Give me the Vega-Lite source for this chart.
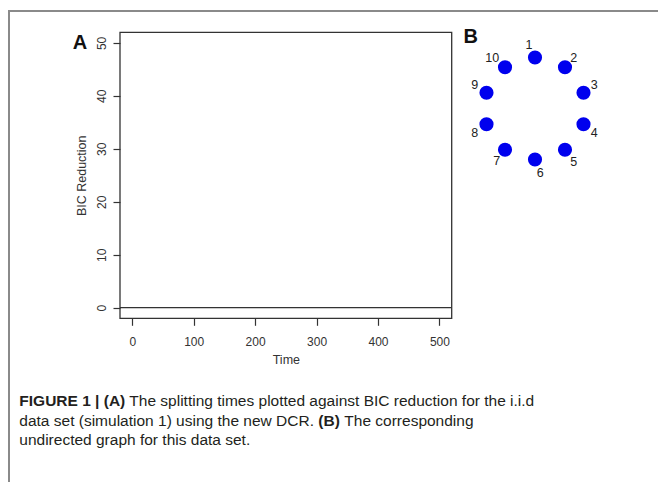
{
  "$schema": "https://vega.github.io/schema/vega-lite/v6.json",
  "width": 652,
  "height": 474,
  "autosize": "none",
  "padding": {"left": 9, "top": 11, "right": 0, "bottom": 0},
  "background": "white",
  "config": {
    "view": {"stroke": "#8a8a8a", "strokeWidth": 2},
    "font": "Liberation Sans"
  },
  "datasets": {
    "splits": [{"time": -20, "bic": 0}, {"time": 520, "bic": 0}],
    "nodes": [
      {"id": "1", "nx": 0, "ny": 1, "lx": -0.12, "ly": 1.25},
      {"id": "2", "nx": 0.588, "ny": 0.809, "lx": 0.76, "ly": 1.0},
      {"id": "3", "nx": 0.951, "ny": 0.309, "lx": 1.16, "ly": 0.46},
      {"id": "4", "nx": 0.951, "ny": -0.309, "lx": 1.16, "ly": -0.48},
      {"id": "5", "nx": 0.588, "ny": -0.809, "lx": 0.76, "ly": -1.05},
      {"id": "6", "nx": 0, "ny": -1, "lx": 0.1, "ly": -1.27},
      {"id": "7", "nx": -0.588, "ny": -0.809, "lx": -0.75, "ly": -1.02},
      {"id": "8", "nx": -0.951, "ny": -0.309, "lx": -1.18, "ly": -0.49},
      {"id": "9", "nx": -0.951, "ny": 0.309, "lx": -1.18, "ly": 0.46},
      {"id": "10", "nx": -0.588, "ny": 0.809, "lx": -0.84, "ly": 1.0}
    ],
    "captionBold": [
      {"line": 1, "pos": 0, "seg": "FIGURE 1 | (A)"},
      {"line": 2, "pos": 299, "seg": "(B)"}
    ],
    "captionRegular": [
      {"line": 1, "pos": 110, "seg": "The splitting times plotted against BIC reduction for the i.i.d"},
      {"line": 2, "pos": 0, "seg": "data set (simulation 1) using the new DCR."},
      {"line": 2, "pos": 325, "seg": "The corresponding"},
      {"line": 3, "pos": 0, "seg": "undirected graph for this data set."}
    ]
  },
  "layer": [
    {
      "layer": [
        {
          "data": {"name": "splits"},
          "mark": {"type": "line", "color": "#333333", "strokeWidth": 1.3},
          "encoding": {
            "x": {
              "field": "time", "type": "quantitative",
              "scale": {"domain": [-20, 520], "range": [111, 442.7], "nice": false, "zero": false},
              "axis": {
                "title": "Time", "values": [0, 100, 200, 300, 400, 500], "offset": -166.7,
                "domain": false, "grid": false, "tickSize": 7, "tickColor": "#333333", "tickWidth": 1.2,
                "labelPadding": 11, "labelFontSize": 12, "labelColor": "#333333", "labelFont": "Liberation Sans",
                "titleFontSize": 12.5, "titleFontWeight": "normal", "titleColor": "#333333", "titleFont": "Liberation Sans", "titlePadding": 6
              }
            },
            "y": {
              "field": "bic", "type": "quantitative",
              "scale": {"domain": [-2, 52], "range": [307.3, 21.3], "nice": false, "zero": false},
              "axis": {
                "title": "BIC Reduction", "values": [0, 10, 20, 30, 40, 50], "offset": -111,
                "domain": false, "grid": false, "tickSize": 7, "tickColor": "#333333", "tickWidth": 1.2,
                "labelAngle": -90, "labelAlign": "center", "labelBaseline": "bottom", "labelPadding": 5,
                "labelFontSize": 12, "labelColor": "#333333", "labelFont": "Liberation Sans",
                "titleFontSize": 12.5, "titleFontWeight": "normal", "titleColor": "#333333", "titleFont": "Liberation Sans", "titlePadding": 7
              }
            }
          }
        },
        {
          "data": {"values": [{"time": -20, "time2": 520, "bic": -2, "bic2": 52}]},
          "mark": {"type": "rect", "fill": null, "stroke": "#333333", "strokeWidth": 1.3},
          "encoding": {
            "x": {"field": "time", "type": "quantitative"},
            "x2": {"field": "time2"},
            "y": {"field": "bic", "type": "quantitative"},
            "y2": {"field": "bic2"}
          }
        },
        {
          "data": {"values": [{"label": "A", "time": -85, "bic": 50}]},
          "mark": {"type": "text", "fontWeight": "bold", "fontSize": 20, "color": "#111111", "font": "Liberation Sans", "baseline": "middle", "align": "center"},
          "encoding": {
            "x": {"field": "time", "type": "quantitative"},
            "y": {"field": "bic", "type": "quantitative"},
            "text": {"field": "label"}
          }
        }
      ]
    },
    {
      "data": {"name": "nodes"},
      "layer": [
        {
          "mark": {"type": "circle", "size": 200, "color": "#0000ee", "opacity": 1},
          "encoding": {
            "x": {"field": "nx", "type": "quantitative", "scale": {"domain": [-1, 1], "range": [475, 577], "nice": false, "zero": false}, "axis": null},
            "y": {"field": "ny", "type": "quantitative", "scale": {"domain": [-1, 1], "range": [148.5, 46.5], "nice": false, "zero": false}, "axis": null}
          }
        },
        {
          "mark": {"type": "text", "fontSize": 12.5, "color": "#222222", "font": "Liberation Sans", "baseline": "middle", "align": "center"},
          "encoding": {
            "x": {"field": "lx", "type": "quantitative", "scale": {"domain": [-1, 1], "range": [475, 577], "nice": false, "zero": false}, "axis": null},
            "y": {"field": "ly", "type": "quantitative", "scale": {"domain": [-1, 1], "range": [148.5, 46.5], "nice": false, "zero": false}, "axis": null},
            "text": {"field": "id"}
          }
        },
        {
          "data": {"values": [{"label": "B", "bx": -1.26, "by": 1.4}]},
          "mark": {"type": "text", "fontWeight": "bold", "fontSize": 20, "color": "#111111", "font": "Liberation Sans", "baseline": "middle", "align": "center"},
          "encoding": {
            "x": {"field": "bx", "type": "quantitative", "scale": {"domain": [-1, 1], "range": [475, 577], "nice": false, "zero": false}, "axis": null},
            "y": {"field": "by", "type": "quantitative", "scale": {"domain": [-1, 1], "range": [148.5, 46.5], "nice": false, "zero": false}, "axis": null},
            "text": {"field": "label"}
          }
        }
      ]
    },
    {
      "layer": [
        {
          "data": {"name": "captionBold"},
          "mark": {"type": "text", "fontWeight": "bold", "fontSize": 15.5, "color": "#231f20", "font": "Liberation Sans", "baseline": "middle", "align": "left"},
          "encoding": {
            "x": {"field": "pos", "type": "quantitative", "scale": {"domain": [0, 600], "range": [10.3, 610.3], "nice": false, "zero": false}, "axis": null},
            "y": {"field": "line", "type": "quantitative", "scale": {"domain": [1, 3], "range": [390, 429], "nice": false, "zero": false}, "axis": null},
            "text": {"field": "seg"}
          }
        },
        {
          "data": {"name": "captionRegular"},
          "mark": {"type": "text", "fontSize": 15.5, "color": "#231f20", "font": "Liberation Sans", "baseline": "middle", "align": "left"},
          "encoding": {
            "x": {"field": "pos", "type": "quantitative", "scale": {"domain": [0, 600], "range": [10.3, 610.3], "nice": false, "zero": false}, "axis": null},
            "y": {"field": "line", "type": "quantitative", "scale": {"domain": [1, 3], "range": [390, 429], "nice": false, "zero": false}, "axis": null},
            "text": {"field": "seg"}
          }
        }
      ]
    }
  ],
  "resolve": {
    "scale": {"x": "independent", "y": "independent"},
    "axis": {"x": "independent", "y": "independent"}
  }
}
